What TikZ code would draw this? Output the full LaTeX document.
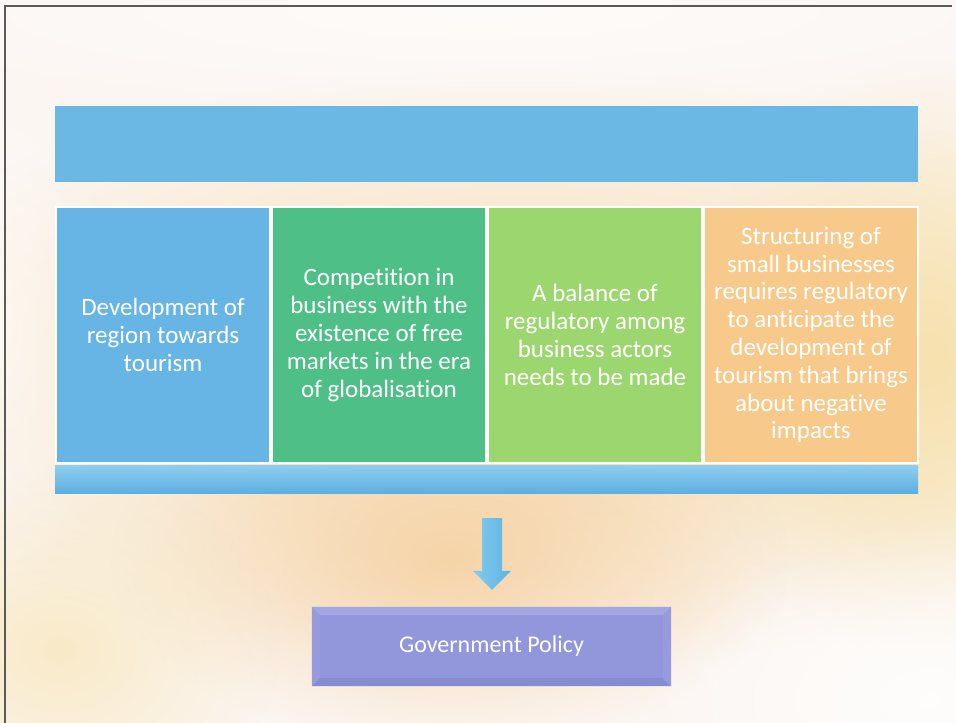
\documentclass[tikz,border=0pt]{standalone}
\usepackage{fontspec}
\setmainfont{Carlito}[Ligatures=NoCommon]
\usetikzlibrary{shapes.arrows,fadings}
\tikzfading[name=softblob, inner color=transparent!0, outer color=transparent!100]
\definecolor{bgbase}{HTML}{FCF6F2}
\definecolor{warm}{HTML}{F6DCAE}
\definecolor{orng}{HTML}{F5CE9C}
\definecolor{yell}{HTML}{F6E0A4}
\definecolor{barblue}{HTML}{6CB8E5}
\definecolor{boxblue}{HTML}{66B5E4}
\definecolor{boxgreen}{HTML}{4FBF88}
\definecolor{boxlime}{HTML}{9CD66E}
\definecolor{boxorange}{HTML}{F7C98B}
\definecolor{botlight}{HTML}{8ECDF0}
\definecolor{botdark}{HTML}{5DAFE0}
\definecolor{arrlight}{HTML}{84CCEF}
\definecolor{arrdark}{HTML}{5CB3E3}
\definecolor{govmain}{HTML}{9197DA}
\definecolor{govlight}{HTML}{A2A7E2}
\definecolor{govdark}{HTML}{858CD2}
\definecolor{govside}{HTML}{959BDC}
\definecolor{framegray}{HTML}{5A5A5A}
\begin{document}
\begin{tikzpicture}[x=1pt,y=-1pt,
  bartop/.style={fill=barblue,minimum width=863pt,minimum height=76pt,inner sep=0pt},
  barbot/.style={top color=botlight,bottom color=botdark,minimum width=863pt,minimum height=28pt,inner sep=0pt},
  colbox/.style={draw=white,line width=1.5pt,minimum width=214pt,minimum height=256pt,inner sep=0pt,
    text=white,align=center,font=\fontsize{25}{27.8}\selectfont},
  blockarrow/.style={left color=arrlight,right color=arrdark},
  govbox/.style={fill=govmain,minimum width=359pt,minimum height=79pt,inner sep=0pt},
  govtext/.style={text=white,font=\fontsize{24}{27.8}\selectfont},
  blob/.style={path fading=softblob}
]
\useasboundingbox (0,0) rectangle (956,723);
% background
\begin{scope}
\clip (0,0) rectangle (956,723);
\fill[bgbase] (0,0) rectangle (956,723);
\fill[warm,blob] (520,370) ellipse [x radius=700pt,y radius=300pt];
\fill[yell,blob,opacity=0.8] (930,360) ellipse [x radius=240pt,y radius=300pt];
\fill[orng,blob,opacity=0.8] (450,560) ellipse [x radius=340pt,y radius=190pt];
\fill[yell,blob,opacity=0.55] (60,650) ellipse [x radius=220pt,y radius=180pt];
\fill[white,blob,opacity=0.8] (930,700) ellipse [x radius=300pt,y radius=180pt];
\fill[white,blob,opacity=0.6] (480,10) ellipse [x radius=750pt,y radius=110pt];
\fill[white,blob,opacity=0.5] (0,330) ellipse [x radius=120pt,y radius=260pt];
\end{scope}
% frame
\draw[framegray,line width=2pt] (5,723) -- (5,6) -- (952,6);
% bars
\node[bartop] (top) at (486.5,144) {};
\node[colbox,fill=boxblue] (b1) at (163,335) {Development of\\region towards\\tourism};
\node[colbox,fill=boxgreen] (b2) at (379,335) {Competition in\\business with the\\existence of free\\markets in the era\\of globalisation};
\node[colbox,fill=boxlime] (b3) at (595,335) {A balance of\\regulatory among\\business actors\\needs to be made};
\node[colbox,fill=boxorange] (b4) at (811,335) {Structuring of\\small businesses\\requires regulatory\\to anticipate the\\development of\\tourism that brings\\about negative\\impacts};
\node[barbot] (bot) at (486.5,479) {};
% government policy
\node[govbox] (gov) at (491.5,646.5) {};
\fill[govlight] (gov.north west) -- (gov.north east) -- ([shift={(-8,8)}]gov.north east) -- ([shift={(8,8)}]gov.north west) -- cycle;
\fill[govdark] (gov.south west) -- (gov.south east) -- ([shift={(-8,-8)}]gov.south east) -- ([shift={(8,-8)}]gov.south west) -- cycle;
\fill[govside] (gov.north west) -- ([shift={(8,8)}]gov.north west) -- ([shift={(8,-8)}]gov.south west) -- (gov.south west) -- cycle;
\fill[govside] (gov.north east) -- ([shift={(-8,8)}]gov.north east) -- ([shift={(-8,-8)}]gov.south east) -- (gov.south east) -- cycle;
\node[govtext] (govlabel) at (gov.center) {Government Policy};
% block arrow from bottom bar towards government policy
\coordinate (atop) at ([shift={(5.5,25)}]bot.south);
\coordinate (atip) at ([shift={(0.5,-17)}]gov.north);
\path[blockarrow] ([xshift=-10pt]atop) -- ([xshift=10pt]atop) -- ([shift={(10,-19)}]atip)
  -- ([shift={(19,-19)}]atip) -- (atip) -- ([shift={(-19,-19)}]atip) -- ([shift={(-10,-19)}]atip) -- cycle;
\end{tikzpicture}
\end{document}
